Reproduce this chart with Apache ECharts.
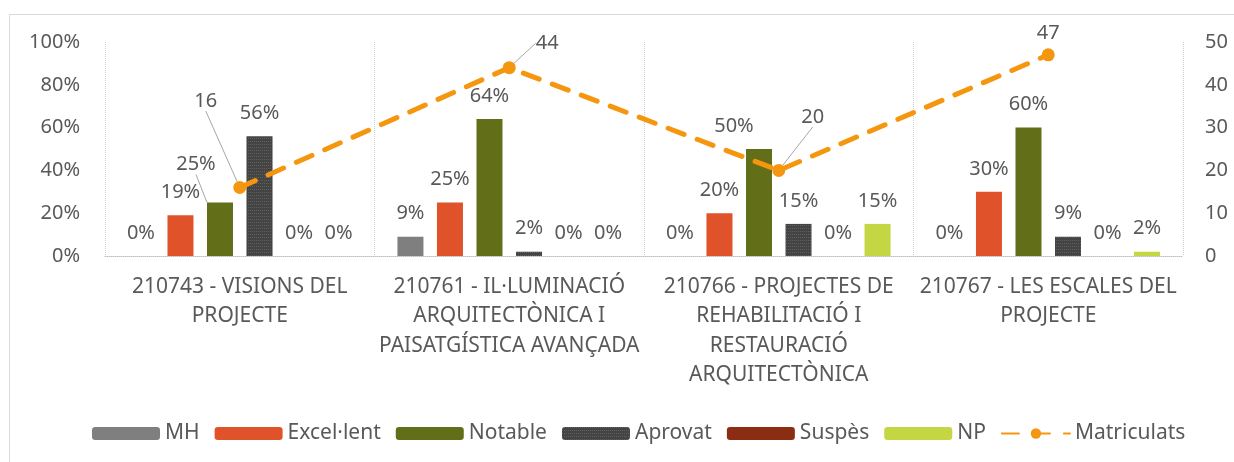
<!DOCTYPE html>
<html>
<head>
<meta charset="utf-8">
<script src="https://cdn.jsdelivr.net/npm/echarts@6/dist/echarts.min.js"></script>
<style>
  html, body { margin: 0; padding: 0; background: #fff; }
  #chart { width: 1234px; height: 462px; }
</style>
</head>
<body>
<div id="chart"></div>
<script>
// dades
var categories = [
    '210743 - VISIONS DEL\nPROJECTE',
    '210761 - IL·LUMINACIÓ\nARQUITECTÒNICA I\nPAISATGÍSTICA AVANÇADA',
    '210766 - PROJECTES DE\nREHABILITACIÓ I\nRESTAURACIÓ\nARQUITECTÒNICA',
    '210767 - LES ESCALES DEL\nPROJECTE'
];
var mh = [0, 9, 0, 0];
var excellent = [19, 25, 20, 30];
var notable = [25, 64, 50, 60];
var aprovat = [56, 2, 15, 9];
var suspes = [0, 0, 0, 0];
var np = [0, 0, 15, 2];
var matriculats = [16, 44, 20, 47];
var pctTicks = [0, 100, 20];
var countTicks = [0, 50, 10];

var font = 'Noto Sans';
var textColor = '#595959';

function barSeries(name, data, color) {
    return {
        name: name,
        type: 'bar',
        yAxisIndex: 0,
        barWidth: 26,
        barGap: '52%',
        itemStyle: { color: color },
        label: {
            show: true,
            position: 'top',
            distance: 13,
            formatter: '{c}%',
            color: textColor,
            fontFamily: font,
            fontSize: 20
        },
        labelLine: { lineStyle: { color: '#a6a6a6', width: 1 } },
        data: data
    };
}

var notableSeries = barSeries('Notable', notable.map(function (v, i) {
    return i === 0 ? { value: v, labelLine: { show: true } } : v;
}), '#636E19');
notableSeries.labelLayout = function (p) {
    if (p.dataIndex === 0) return { dx: -24, dy: -15 };
    if (p.dataIndex === 2) return { dx: -25 };
    return {};
};

// aprovat amb textura puntejada
var aprovatSeries = barSeries('Aprovat', aprovat, '#444444');
aprovatSeries.itemStyle.decal = {
    symbol: 'rect',
    symbolSize: 1,
    color: 'rgba(120,120,120,0.55)',
    dashArrayX: [1, 1],
    dashArrayY: [1, 2],
    rotation: 0
};

var lineShift = [[-34, -65], [38, -3], [34, -32], [0, 0]];

var option = {
    animation: false,
    textStyle: { fontFamily: font },
    graphic: [{
        type: 'rect',
        shape: { x: 9.5, y: 14.5, width: 1300, height: 500 },
        style: { fill: 'none', stroke: '#d9d9d9', lineWidth: 1 },
        silent: true
    }],
    legend: {
        left: 87,
        top: 418,
        itemWidth: 68,
        itemHeight: 13,
        itemGap: 15,
        textStyle: { color: textColor, fontSize: 21, fontFamily: font },
        data: ['MH', 'Excel·lent', 'Notable', 'Aprovat', 'Suspès', 'NP', 'Matriculats']
    },
    grid: { left: 105, right: 51, top: 42, bottom: 206 },
    xAxis: {
        type: 'category',
        data: categories,
        boundaryGap: true,
        axisLine: { lineStyle: { color: '#bfbfbf', type: 'dotted' } },
        axisTick: { show: false },
        splitLine: { show: true, interval: 0, lineStyle: { color: '#d0d0d0', type: 'dotted' } },
        axisLabel: {
            interval: 0,
            color: textColor,
            fontFamily: font,
            fontSize: 21,
            lineHeight: 29.5,
            margin: 16
        }
    },
    yAxis: [{
        type: 'value',
        min: pctTicks[0],
        max: pctTicks[1],
        interval: pctTicks[2],
        axisLine: { show: false },
        axisTick: { show: false },
        splitLine: { show: false },
        axisLabel: { formatter: '{value}%', color: textColor, fontFamily: font, fontSize: 20, margin: 25 }
    }, {
        type: 'value',
        min: countTicks[0],
        max: countTicks[1],
        interval: countTicks[2],
        axisLine: { show: false },
        axisTick: { show: false },
        splitLine: { show: false },
        axisLabel: { color: textColor, fontFamily: font, fontSize: 20, margin: 22 }
    }],
    series: [
        barSeries('MH', mh, '#7f7f7f'),
        barSeries('Excel·lent', excellent, '#E0532A'),
        notableSeries,
        aprovatSeries,
        barSeries('Suspès', suspes, '#8A2D12'),
        barSeries('NP', np, '#C4D642'),
        {
            name: 'Matriculats',
            type: 'line',
            yAxisIndex: 1,
            symbol: 'circle',
            symbolSize: 13,
            itemStyle: { color: '#F5960F' },
            lineStyle: { color: '#F5960F', width: 5, type: [17, 14], cap: 'round' },
            label: {
                show: true,
                position: 'top',
                distance: 5,
                color: textColor,
                fontFamily: font,
                fontSize: 20
            },
            labelLine: { lineStyle: { color: '#a6a6a6', width: 1 } },
            labelLayout: function (p) {
                var s = lineShift[p.dataIndex];
                return { dx: s[0], dy: s[1] };
            },
            data: matriculats.map(function (v, i) {
                return i < 3 ? { value: v, labelLine: { show: true } } : v;
            })
        }
    ]
};

var myChart = echarts.init(document.getElementById('chart'));
myChart.setOption(option);
</script>
</body>
</html>
